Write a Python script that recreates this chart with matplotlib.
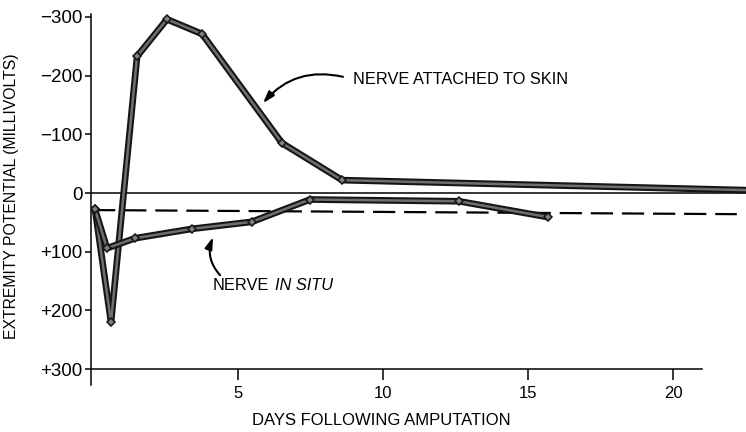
import matplotlib
matplotlib.use("Agg")
import matplotlib.pyplot as plt
import matplotlib.patheffects as pe

plt.rcParams["font.family"] = ["Liberation Sans", "DejaVu Sans"]

# days after amputation / extremity potential (mV, negative plotted upward)
skin_days = [0.07, 0.62, 1.52, 2.55, 3.76, 6.52, 8.59, 22.5]
skin_mv = [28, 220, -233, -296, -271, -85, -22, -5]

situ_days = [0.07, 0.48, 1.45, 3.41, 5.48, 7.48, 12.62, 15.69]
situ_mv = [28, 94, 77, 61, 49, 11, 14, 41]

baseline_days = [0.0, 22.2]
baseline_mv = [29, 36]

yticks = [-300, -200, -100, 0, 100, 200, 300]
ytick_labels = ["\u2212300", "\u2212200", "\u2212100", "0", "+100", "+200", "+300"]
xticks = [5, 10, 15, 20]

ARROW = dict(arrowstyle="-|>,head_length=0.7,head_width=0.22",
             color="black", lw=1.5, shrinkA=0, shrinkB=0)


def curve(ax, x, y, n_markers):
    ax.plot(x, y, color="#6f6f6f", lw=1.8, solid_capstyle="round", zorder=4,
            path_effects=[pe.Stroke(linewidth=4.8, foreground="#151515"), pe.Normal()])
    ax.plot(x[:n_markers], y[:n_markers], ls="none", marker="D", ms=4,
            mfc="#808080", mec="#151515", mew=1.1, zorder=5)


fig = plt.figure(figsize=(7.46, 4.32), dpi=100)
ax = fig.add_axes([91 / 746, 1 - 385 / 432, 654.5 / 746, 371 / 432])

ax.set_xlim(-0.07, 22.5)
ax.set_ylim(327, -305)

ax.axhline(0, color="black", lw=1.1, zorder=2)
ax.plot(baseline_days, baseline_mv, color="black", lw=1.6, dashes=(10, 4), zorder=2)

curve(ax, skin_days, skin_mv, len(skin_days) - 1)
curve(ax, situ_days, situ_mv, len(situ_days))

for s in ["top", "right"]:
    ax.spines[s].set_visible(False)
ax.spines["bottom"].set_position(("data", 300))
ax.spines["bottom"].set_bounds(-0.07, 21)
ax.spines["left"].set_linewidth(1.1)
ax.spines["bottom"].set_linewidth(1.1)

ax.set_yticks(yticks)
ax.set_yticklabels(ytick_labels)
ax.set_xticks(xticks)
ax.tick_params(axis="y", length=4, width=1.1, pad=2, labelsize=13.5)
ax.tick_params(axis="x", length=8, width=1.1, pad=4, labelsize=12)

ax.set_ylabel("EXTREMITY POTENTIAL (MILLIVOLTS)", fontsize=11.3, va="center")
ax.yaxis.set_label_coords(-0.121, 0.509)
ax.set_xlabel("DAYS FOLLOWING AMPUTATION", fontsize=12, va="center")
ax.xaxis.set_label_coords(0.443, -0.097)

# nerve attached to skin
ax.text(8.97, -194, "NERVE ATTACHED TO SKIN", fontsize=11.8, va="center", ha="left")
ax.annotate("", xy=(5.86, -153), xytext=(8.62, -198),
            arrowprops=dict(ARROW, connectionstyle="arc3,rad=0.3"))

# nerve in situ
t = ax.text(4.14, 157, "NERVE", fontsize=11.8, va="center", ha="left")
ax.annotate("IN SITU", xy=(1, 0.5), xycoords=t, xytext=(4, 0),
            textcoords="offset points", fontsize=11.8, va="center", ha="left",
            style="italic")
ax.annotate("", xy=(4.14, 75), xytext=(4.38, 140),
            arrowprops=dict(ARROW, connectionstyle="arc3,rad=-0.3"))

fig.savefig("out.png", dpi=100)
